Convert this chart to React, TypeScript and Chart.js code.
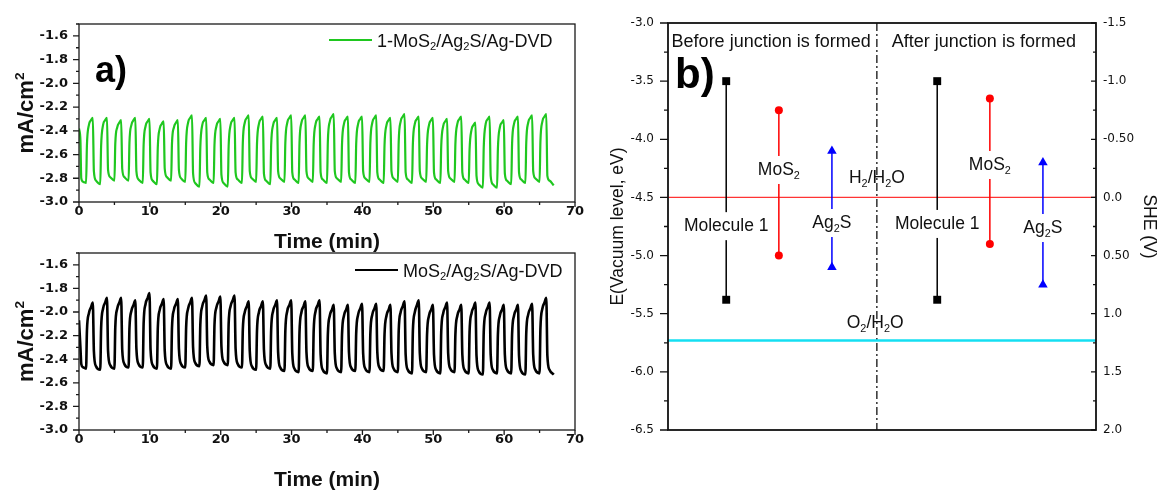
import React, { useEffect, useRef } from 'react';
import { Chart, registerables } from 'chart.js';

Chart.register(...registerables);

const FONT = "'Liberation Sans', Arial, Helvetica, sans-serif";
const TICK_FONT = "'DejaVu Sans', 'Liberation Sans', sans-serif";

// ---------- panel a) photocurrent data (shared time axis, minutes) ----------
const timeMin = [
  0, 0.2, 0.32, 0.6,
  1, 1.12, 1.4, 1.7, 1.95, 2.1, 2.4,
  3, 3.12, 3.4, 3.7, 3.95, 4.1, 4.4,
  5, 5.12, 5.4, 5.7, 5.95, 6.1, 6.4,
  7, 7.12, 7.4, 7.7, 7.95, 8.1, 8.4,
  9, 9.12, 9.4, 9.7, 9.95, 10.1, 10.4,
  11, 11.12, 11.4, 11.7, 11.95, 12.1, 12.4,
  13, 13.12, 13.4, 13.7, 13.95, 14.1, 14.4,
  15, 15.12, 15.4, 15.7, 15.95, 16.1, 16.4,
  17, 17.12, 17.4, 17.7, 17.95, 18.1, 18.4,
  19, 19.12, 19.4, 19.7, 19.95, 20.1, 20.4,
  21, 21.12, 21.4, 21.7, 21.95, 22.1, 22.4,
  23, 23.12, 23.4, 23.7, 23.95, 24.1, 24.4,
  25, 25.12, 25.4, 25.7, 25.95, 26.1, 26.4,
  27, 27.12, 27.4, 27.7, 27.95, 28.1, 28.4,
  29, 29.12, 29.4, 29.7, 29.95, 30.1, 30.4,
  31, 31.12, 31.4, 31.7, 31.95, 32.1, 32.4,
  33, 33.12, 33.4, 33.7, 33.95, 34.1, 34.4,
  35, 35.12, 35.4, 35.7, 35.95, 36.1, 36.4,
  37, 37.12, 37.4, 37.7, 37.95, 38.1, 38.4,
  39, 39.12, 39.4, 39.7, 39.95, 40.1, 40.4,
  41, 41.12, 41.4, 41.7, 41.95, 42.1, 42.4,
  43, 43.12, 43.4, 43.7, 43.95, 44.1, 44.4,
  45, 45.12, 45.4, 45.7, 45.95, 46.1, 46.4,
  47, 47.12, 47.4, 47.7, 47.95, 48.1, 48.4,
  49, 49.12, 49.4, 49.7, 49.95, 50.1, 50.4,
  51, 51.12, 51.4, 51.7, 51.95, 52.1, 52.4,
  53, 53.12, 53.4, 53.7, 53.95, 54.1, 54.4,
  55, 55.12, 55.4, 55.7, 55.95, 56.1, 56.4,
  57, 57.12, 57.4, 57.7, 57.95, 58.1, 58.4,
  59, 59.12, 59.4, 59.7, 59.95, 60.1, 60.4,
  61, 61.12, 61.4, 61.7, 61.95, 62.1, 62.4,
  63, 63.12, 63.4, 63.7, 63.95, 64.1, 64.4,
  65, 65.12, 65.4, 65.7, 65.95, 66.1, 66.4,
  67,
];

// 1-MoS2/Ag2S/Ag-DVD (green), mA/cm^2
const currentMolecule = [
  -2.38, -2.48, -2.80, -2.83,
  -2.84, -2.52, -2.35, -2.31, -2.29, -2.74, -2.82,
  -2.85, -2.53, -2.35, -2.31, -2.29, -2.73, -2.79,
  -2.82, -2.51, -2.37, -2.33, -2.31, -2.72, -2.79,
  -2.82, -2.50, -2.35, -2.31, -2.29, -2.74, -2.81,
  -2.84, -2.52, -2.36, -2.32, -2.30, -2.75, -2.82,
  -2.85, -2.54, -2.38, -2.34, -2.32, -2.72, -2.79,
  -2.82, -2.51, -2.37, -2.33, -2.31, -2.73, -2.80,
  -2.83, -2.50, -2.33, -2.29, -2.27, -2.76, -2.84,
  -2.87, -2.54, -2.35, -2.31, -2.29, -2.75, -2.81,
  -2.84, -2.52, -2.36, -2.32, -2.30, -2.77, -2.84,
  -2.87, -2.53, -2.35, -2.31, -2.29, -2.75, -2.81,
  -2.84, -2.50, -2.33, -2.29, -2.27, -2.74, -2.80,
  -2.83, -2.51, -2.34, -2.30, -2.28, -2.76, -2.82,
  -2.85, -2.52, -2.35, -2.31, -2.29, -2.74, -2.80,
  -2.83, -2.50, -2.33, -2.29, -2.27, -2.75, -2.81,
  -2.84, -2.50, -2.33, -2.29, -2.27, -2.74, -2.80,
  -2.83, -2.51, -2.34, -2.30, -2.28, -2.75, -2.81,
  -2.84, -2.49, -2.32, -2.28, -2.26, -2.74, -2.80,
  -2.83, -2.51, -2.34, -2.30, -2.28, -2.75, -2.81,
  -2.84, -2.51, -2.34, -2.30, -2.28, -2.74, -2.80,
  -2.83, -2.50, -2.33, -2.29, -2.27, -2.75, -2.81,
  -2.84, -2.52, -2.35, -2.31, -2.29, -2.74, -2.80,
  -2.83, -2.49, -2.32, -2.28, -2.26, -2.75, -2.81,
  -2.84, -2.51, -2.34, -2.30, -2.28, -2.74, -2.80,
  -2.83, -2.52, -2.35, -2.31, -2.29, -2.75, -2.81,
  -2.84, -2.53, -2.36, -2.32, -2.30, -2.74, -2.80,
  -2.83, -2.51, -2.34, -2.30, -2.28, -2.75, -2.81,
  -2.84, -2.56, -2.39, -2.35, -2.33, -2.78, -2.85,
  -2.88, -2.54, -2.34, -2.30, -2.28, -2.78, -2.85,
  -2.88, -2.55, -2.37, -2.33, -2.31, -2.76, -2.82,
  -2.85, -2.51, -2.34, -2.30, -2.28, -2.75, -2.81,
  -2.84, -2.50, -2.33, -2.29, -2.27, -2.74, -2.80,
  -2.83, -2.49, -2.32, -2.28, -2.26, -2.78, -2.82,
  -2.86,
];

// MoS2/Ag2S/Ag-DVD (black), mA/cm^2
const currentReference = [
  -2.07, -2.30, -2.44, -2.47,
  -2.48, -2.16, -2.01, -1.96, -1.92, -2.33, -2.46,
  -2.49, -2.14, -1.97, -1.92, -1.88, -2.33, -2.45,
  -2.48, -2.13, -1.97, -1.92, -1.88, -2.32, -2.44,
  -2.47, -2.14, -1.99, -1.94, -1.90, -2.31, -2.44,
  -2.47, -2.10, -1.93, -1.88, -1.84, -2.32, -2.45,
  -2.48, -2.14, -1.98, -1.93, -1.89, -2.33, -2.45,
  -2.48, -2.14, -1.98, -1.93, -1.89, -2.31, -2.44,
  -2.47, -2.13, -1.97, -1.92, -1.88, -2.30, -2.43,
  -2.46, -2.11, -1.95, -1.90, -1.86, -2.29, -2.42,
  -2.45, -2.11, -1.96, -1.91, -1.87, -2.29, -2.42,
  -2.45, -2.10, -1.95, -1.90, -1.86, -2.31, -2.44,
  -2.47, -2.15, -2.00, -1.95, -1.91, -2.33, -2.46,
  -2.49, -2.16, -2.00, -1.95, -1.91, -2.32, -2.45,
  -2.48, -2.15, -1.99, -1.94, -1.90, -2.34, -2.47,
  -2.50, -2.16, -1.99, -1.94, -1.90, -2.35, -2.48,
  -2.51, -2.17, -2.00, -1.95, -1.91, -2.34, -2.47,
  -2.50, -2.16, -1.99, -1.94, -1.90, -2.36, -2.49,
  -2.52, -2.19, -2.03, -1.98, -1.94, -2.35, -2.48,
  -2.51, -2.19, -2.03, -1.98, -1.94, -2.34, -2.47,
  -2.50, -2.18, -2.02, -1.97, -1.93, -2.35, -2.48,
  -2.51, -2.18, -2.02, -1.97, -1.93, -2.34, -2.47,
  -2.50, -2.19, -2.03, -1.98, -1.94, -2.35, -2.48,
  -2.51, -2.16, -2.00, -1.95, -1.91, -2.36, -2.49,
  -2.52, -2.16, -2.00, -1.94, -1.90, -2.35, -2.48,
  -2.51, -2.19, -2.03, -1.98, -1.94, -2.36, -2.49,
  -2.52, -2.17, -2.01, -1.96, -1.92, -2.35, -2.48,
  -2.51, -2.19, -2.03, -1.98, -1.94, -2.36, -2.49,
  -2.52, -2.17, -2.01, -1.96, -1.92, -2.37, -2.50,
  -2.53, -2.17, -2.01, -1.96, -1.92, -2.36, -2.49,
  -2.52, -2.19, -2.03, -1.98, -1.94, -2.36, -2.49,
  -2.52, -2.19, -2.03, -1.98, -1.94, -2.37, -2.50,
  -2.53, -2.18, -2.02, -1.97, -1.93, -2.36, -2.49,
  -2.52, -2.14, -1.97, -1.92, -1.88, -2.37, -2.49,
  -2.53,
];

const currentTicks = [-3.0, -2.8, -2.6, -2.4, -2.2, -2.0, -1.8, -1.6];
const timeTicks = [0, 10, 20, 30, 40, 50, 60, 70];

// ---------- panel b) band diagram ----------
const energyTicks = [-6.5, -6.0, -5.5, -5.0, -4.5, -4.0, -3.5, -3.0];
const sheTicks = [-1.5, -1.0, -0.5, 0, 0.5, 1.0, 1.5, 2.0];
const sheTickLabels = ['-1.5', '-1.0', '-0.50', '0.0', '0.50', '1.0', '1.5', '2.0'];

const levelNames = ['Molecule 1', 'MoS_2', 'Ag_2S', 'Molecule 1', 'MoS_2', 'Ag_2S'];
const levelX = [13.6, 25.9, 38.3, 62.9, 75.2, 87.6];
const levelTop = [-3.5, -3.75, -4.1, -3.5, -3.65, -4.2];
const levelBottom = [-5.38, -5.0, -5.1, -5.38, -4.9, -5.25];
const levelColors = ['#000000', '#ff0000', '#0000ff', '#000000', '#ff0000', '#0000ff'];
const levelMarkers = ['rect', 'circle', 'triangle', 'rect', 'circle', 'triangle'];
const levelMarkerRadius = [5.6, 4, 5.5, 5.6, 4, 5.5];
const levelLabelY = [-4.79, -4.307, -4.763, -4.771, -4.264, -4.806];

const redoxNames = ['H_2/H_2O', 'O_2/H_2O'];
const redoxLevels = [-4.5, -5.73];
const redoxLabelX = [48.8, 48.4];
const redoxLabelY = [-4.376, -5.622];
const redoxColors = ['#ff3434', '#14dff2'];
const redoxWidths = [1.3, 2.5];

const junctionX = 48.8;
const phaseTitles = ['Before junction is formed', 'After junction is formed'];
const phaseTitleX = [24.1, 73.8];

// ---------- rich text helpers ----------
type Seg = { t: string; k: 'n' | 'sub' | 'sup' };
function parseRich(s: string): Seg[] {
  const out: Seg[] = [];
  let buf = '';
  for (let i = 0; i < s.length; i++) {
    const c = s[i];
    if ((c === '_' || c === '^') && i + 1 < s.length) {
      if (buf) { out.push({ t: buf, k: 'n' }); buf = ''; }
      out.push({ t: s[i + 1], k: c === '_' ? 'sub' : 'sup' });
      i++;
    } else buf += c;
  }
  if (buf) out.push({ t: buf, k: 'n' });
  return out;
}
function fontFor(k: string, size: number, weight: string) {
  return `${weight} ${k === 'n' ? size : size * 0.62}px ${FONT}`;
}
function richWidth(ctx: CanvasRenderingContext2D, s: string, size: number, weight = 'normal') {
  let w = 0;
  for (const seg of parseRich(s)) {
    ctx.font = fontFor(seg.k, size, weight);
    w += ctx.measureText(seg.t).width;
  }
  return w;
}
function drawRich(
  ctx: CanvasRenderingContext2D, s: string, x: number, y: number, size: number,
  weight = 'normal', align: 'left' | 'center' | 'right' = 'left', color = '#111'
) {
  const w = richWidth(ctx, s, size, weight);
  let cx = align === 'center' ? x - w / 2 : align === 'right' ? x - w : x;
  ctx.textAlign = 'left';
  ctx.textBaseline = 'alphabetic';
  ctx.fillStyle = color;
  for (const seg of parseRich(s)) {
    ctx.font = fontFor(seg.k, size, weight);
    const dy = seg.k === 'sub' ? size * 0.22 : seg.k === 'sup' ? -size * 0.42 : 0;
    ctx.fillText(seg.t, cx, y + dy);
    cx += ctx.measureText(seg.t).width;
  }
  return w;
}
function midpoints(v: number[]) {
  const out: number[] = [];
  for (let i = 0; i < v.length - 1; i++) out.push((v[i] + v[i + 1]) / 2);
  return out;
}
function noPad(s: any) {
  s.paddingTop = 0; s.paddingBottom = 0; s.paddingLeft = 0; s.paddingRight = 0;
}

// ---------- panel a) factory ----------
type CurOpts = {
  values: number[]; color: string; lineWidth: number; legend: string;
  legendY: number; legendX1: number; legendX2: number; legendTextX: number;
  padTop: number; xAxisHeight: number; titleBaseline: number; panel?: string;
};
function makeCurrentChart(canvas: HTMLCanvasElement, o: CurOpts) {
  const decor = {
    id: 'decorA',
    afterDraw(chart: any) {
      const { ctx, chartArea: a, scales } = chart;
      const xs = scales.x, ys = scales.y;
      ctx.save();
      ctx.strokeStyle = '#1a1a1a';
      ctx.lineWidth = 1.3;
      ctx.strokeRect(a.left, a.top, a.right - a.left, a.bottom - a.top);
      ctx.beginPath();
      currentTicks.forEach((v) => { const y = ys.getPixelForValue(v); ctx.moveTo(a.left - 6, y); ctx.lineTo(a.left, y); });
      midpoints(currentTicks).concat([-1.5]).forEach((v) => { const y = ys.getPixelForValue(v); ctx.moveTo(a.left - 3, y); ctx.lineTo(a.left, y); });
      timeTicks.forEach((v) => { const x = xs.getPixelForValue(v); ctx.moveTo(x, a.bottom); ctx.lineTo(x, a.bottom + 5); });
      midpoints(timeTicks).forEach((v) => { const x = xs.getPixelForValue(v); ctx.moveTo(x, a.bottom); ctx.lineTo(x, a.bottom + 3); });
      ctx.stroke();

      // axis titles
      ctx.save();
      ctx.translate(33, (a.top + a.bottom) / 2);
      ctx.rotate(-Math.PI / 2);
      drawRich(ctx, 'mA/cm^2', 0, 0, 22, 'bold', 'center');
      ctx.restore();
      drawRich(ctx, 'Time (min)', (a.left + a.right) / 2, o.titleBaseline, 21, 'bold', 'center');

      // legend
      ctx.strokeStyle = o.color;
      ctx.lineWidth = 2;
      ctx.beginPath();
      ctx.moveTo(o.legendX1, o.legendY);
      ctx.lineTo(o.legendX2, o.legendY);
      ctx.stroke();
      drawRich(ctx, o.legend, o.legendTextX, o.legendY + 6.5, 18, 'normal', 'left');

      if (o.panel) drawRich(ctx, o.panel, 95, 82, 36, 'bold', 'left', '#000');
      ctx.restore();
    },
  };

  return new Chart(canvas, {
    type: 'line',
    data: {
      datasets: [{
        data: timeMin.map((t, i) => ({ x: t, y: o.values[i] })),
        borderColor: o.color,
        borderWidth: o.lineWidth,
        pointRadius: 0,
        cubicInterpolationMode: 'monotone',
        fill: false,
      }],
    },
    options: {
      animation: false,
      responsive: false,
      maintainAspectRatio: false,
      devicePixelRatio: 1,
      layout: { padding: { left: 0, right: 15, top: o.padTop, bottom: 0 } },
      plugins: { legend: { display: false }, tooltip: { enabled: false } },
      scales: {
        x: {
          type: 'linear', min: 0, max: 70,
          grid: { display: false, drawTicks: false },
          border: { display: false },
          afterBuildTicks: (s: any) => { s.ticks = timeTicks.map((v) => ({ value: v })); },
          afterFit: (s: any) => { s.height = o.xAxisHeight; noPad(s); },
          ticks: {
            autoSkip: false, maxRotation: 0, padding: 2, color: '#111',
            font: { family: TICK_FONT, size: 13, weight: 'bold' },
            callback: (v: any) => String(v),
          },
        },
        y: {
          type: 'linear', min: -3.0, max: -1.5,
          grid: { display: false, drawTicks: false },
          border: { display: false },
          afterBuildTicks: (s: any) => { s.ticks = currentTicks.map((v) => ({ value: v })); },
          afterFit: (s: any) => { s.width = 79; noPad(s); },
          ticks: {
            autoSkip: false, padding: 11, color: '#111',
            font: { family: TICK_FONT, size: 13, weight: 'bold' },
            callback: (v: any) => Number(v).toFixed(1),
          },
        },
      },
    } as any,
    plugins: [decor as any],
  });
}

// ---------- panel b) factory ----------
function makeBandChart(canvas: HTMLCanvasElement) {
  const datasets: any[] = [];
  levelX.forEach((x, i) => {
    datasets.push({
      data: [{ x, y: levelTop[i] }, { x, y: levelBottom[i] }],
      borderColor: levelColors[i],
      backgroundColor: levelColors[i],
      borderWidth: 1.5,
      pointStyle: levelMarkers[i],
      pointRadius: levelMarkerRadius[i],
      pointBackgroundColor: levelColors[i],
      pointBorderColor: levelColors[i],
      pointBorderWidth: 0,
    });
  });
  redoxLevels.forEach((lv, i) => {
    datasets.push({
      data: [{ x: 0, y: lv }, { x: 100, y: lv }],
      borderColor: redoxColors[i],
      borderWidth: redoxWidths[i],
      pointRadius: 0,
    });
  });
  datasets.push({
    data: [{ x: junctionX, y: -3.0 }, { x: junctionX, y: -6.5 }],
    borderColor: '#111',
    borderWidth: 1.3,
    borderDash: [8, 3, 2, 3],
    pointRadius: 0,
  });

  const decor = {
    id: 'decorB',
    afterDatasetsDraw(chart: any) {
      const { ctx, chartArea: a, scales } = chart;
      const xs = scales.x, ys = scales.y;
      ctx.save();
      levelNames.forEach((name, i) => {
        const cx = xs.getPixelForValue(levelX[i]);
        const by = ys.getPixelForValue(levelLabelY[i]);
        const w = richWidth(ctx, name, 17.5, 'normal');
        ctx.fillStyle = '#fff';
        ctx.fillRect(cx - w / 2 - 2, by - 19, w + 4, 28);
        drawRich(ctx, name, cx, by, 17.5, 'normal', 'center');
      });
      redoxNames.forEach((name, i) => {
        drawRich(ctx, name, xs.getPixelForValue(redoxLabelX[i]), ys.getPixelForValue(redoxLabelY[i]), 17.5, 'normal', 'center');
      });
      phaseTitles.forEach((t, i) => {
        drawRich(ctx, t, xs.getPixelForValue(phaseTitleX[i]), a.top + 24, 18, 'normal', 'center');
      });
      drawRich(ctx, 'b)', 85, 88, 42, 'bold', 'left', '#000');
      ctx.restore();
    },
    afterDraw(chart: any) {
      const { ctx, chartArea: a, scales } = chart;
      const ys = scales.y;
      ctx.save();
      ctx.strokeStyle = '#111';
      ctx.lineWidth = 1.8;
      ctx.strokeRect(a.left, a.top, a.right - a.left, a.bottom - a.top);
      ctx.lineWidth = 1.3;
      ctx.beginPath();
      energyTicks.forEach((v) => {
        const y = ys.getPixelForValue(v);
        ctx.moveTo(a.left - 8, y); ctx.lineTo(a.left, y);
        ctx.moveTo(a.right - 5, y); ctx.lineTo(a.right, y);
      });
      midpoints(energyTicks).forEach((v) => {
        const y = ys.getPixelForValue(v);
        ctx.moveTo(a.left - 4, y); ctx.lineTo(a.left, y);
        ctx.moveTo(a.right - 3, y); ctx.lineTo(a.right, y);
      });
      ctx.stroke();

      const cy = (a.top + a.bottom) / 2;
      ctx.save();
      ctx.translate(33, cy);
      ctx.rotate(-Math.PI / 2);
      drawRich(ctx, 'E(Vacuum level, eV)', 0, 0, 17.5, 'normal', 'center');
      ctx.restore();
      ctx.save();
      ctx.translate(554, cy);
      ctx.rotate(Math.PI / 2);
      drawRich(ctx, 'SHE (V)', 0, 0, 17.5, 'normal', 'center');
      ctx.restore();
      ctx.restore();
    },
  };

  return new Chart(canvas, {
    type: 'line',
    data: { datasets },
    options: {
      animation: false,
      responsive: false,
      maintainAspectRatio: false,
      devicePixelRatio: 1,
      layout: { padding: { left: 0, right: 0, top: 23, bottom: 61 } },
      plugins: { legend: { display: false }, tooltip: { enabled: false } },
      scales: {
        x: { type: 'linear', min: 0, max: 100, display: false },
        y: {
          type: 'linear', position: 'left', min: -6.5, max: -3.0,
          grid: { display: false, drawTicks: false },
          border: { display: false },
          afterBuildTicks: (s: any) => { s.ticks = energyTicks.map((v) => ({ value: v })); },
          afterFit: (s: any) => { s.width = 78; noPad(s); },
          ticks: {
            autoSkip: false, padding: 14, color: '#111',
            font: { family: TICK_FONT, size: 12 },
            callback: (v: any) => Number(v).toFixed(1),
          },
        },
        y2: {
          type: 'linear', position: 'right', min: -1.5, max: 2.0, reverse: true,
          grid: { display: false, drawTicks: false },
          border: { display: false },
          afterBuildTicks: (s: any) => { s.ticks = sheTicks.map((v) => ({ value: v })); },
          afterFit: (s: any) => { s.width = 63; noPad(s); },
          ticks: {
            autoSkip: false, padding: 7, color: '#111',
            font: { family: TICK_FONT, size: 12 },
            callback: (_v: any, i: number) => sheTickLabels[i],
          },
        },
      },
    } as any,
    plugins: [decor as any],
  });
}

export default function App() {
  const topRef = useRef<HTMLCanvasElement>(null);
  const botRef = useRef<HTMLCanvasElement>(null);
  const rightRef = useRef<HTMLCanvasElement>(null);

  useEffect(() => {
    const charts: Chart[] = [];
    charts.push(makeCurrentChart(topRef.current!, {
      values: currentMolecule, color: '#1fc71f', lineWidth: 2.2,
      legend: '1-MoS_2/Ag_2S/Ag-DVD', legendY: 40, legendX1: 329, legendX2: 372, legendTextX: 377,
      padTop: 24, xAxisHeight: 54, titleBaseline: 248, panel: 'a)',
    }));
    charts.push(makeCurrentChart(botRef.current!, {
      values: currentReference, color: '#000000', lineWidth: 2.6,
      legend: 'MoS_2/Ag_2S/Ag-DVD', legendY: 20, legendX1: 355, legendX2: 398, legendTextX: 403,
      padTop: 3, xAxisHeight: 61, titleBaseline: 236,
    }));
    charts.push(makeBandChart(rightRef.current!));
    return () => charts.forEach((c) => c.destroy());
  }, []);

  return (
    <div style={{ position: 'absolute', left: 0, top: 0, width: 1159, height: 491, background: '#fff', overflow: 'hidden' }}>
      <canvas ref={topRef} width={590} height={256} style={{ position: 'absolute', left: 0, top: 0, width: 590, height: 256 }} />
      <canvas ref={botRef} width={590} height={241} style={{ position: 'absolute', left: 0, top: 250, width: 590, height: 241 }} />
      <canvas ref={rightRef} width={569} height={491} style={{ position: 'absolute', left: 590, top: 0, width: 569, height: 491 }} />
    </div>
  );
}
